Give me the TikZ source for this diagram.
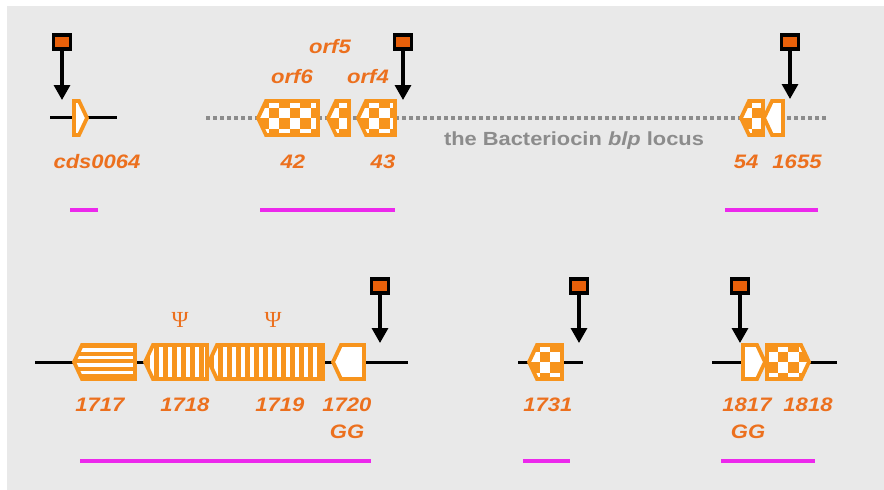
\documentclass[tikz,border=0pt]{standalone}
\usepackage{fontspec}
\setmainfont{Liberation Sans}
\newfontfamily\psifont{Liberation Serif}
\usepackage{tikz}
\usetikzlibrary{arrows.meta}

\definecolor{genecol}{RGB}{247,148,29}
\definecolor{labelcol}{RGB}{236,112,30}
\definecolor{markcol}{RGB}{232,96,10}
\definecolor{locuscol}{RGB}{140,140,140}
\definecolor{panelcol}{RGB}{233,233,233}
\definecolor{barcol}{RGB}{236,40,236}

% gene outlines: tip/start at #1, end at #2, backbone at #3
\newcommand{\geneleft}[3]{({#1},{#3}) -- ({#1+8},{#3-17}) -- ({#2},{#3-17}) -- ({#2},{#3+17}) -- ({#1+8},{#3+17}) -- cycle}
\newcommand{\generight}[3]{({#1},{#3-17}) -- ({#2-8},{#3-17}) -- ({#2},{#3}) -- ({#2-8},{#3+17}) -- ({#1},{#3+17}) -- cycle}

% fillings
\newcommand{\checkers}[2]{\foreach \i in {0,...,12} \foreach \j in {0,2}
  {\fill[genecol] ({#1+\i*10.5},{#2-21+(\j+mod(\i,2))*10.5}) rectangle ++(10.5,10.5);}}
\newcommand{\vstripes}[2]{\foreach \i in {0,...,14}
  {\fill[genecol] ({#1+\i*9},{#2-18}) rectangle ++(5,36);}}
\newcommand{\hstripes}[2]{\foreach \j in {0,...,5}
  {\fill[genecol] ({#1},{#2-18+\j*7.5}) rectangle ++(80,4);}}
\newcommand{\plain}[2]{}

\newcommand{\drawgene}[2]{%
  \begin{scope}
    \clip #1;
    \fill[white] #1;
    #2
  \end{scope}
  \draw[geneline] #1;}

\begin{document}
\begin{tikzpicture}[x=1pt, y=-1pt,
  tagbox/.style={draw=black, line width=3.5pt, fill=markcol, minimum width=17pt, minimum height=14pt, inner sep=0pt},
  probe/.style={line width=3.2pt, -{Triangle[width=16pt,length=15pt]}},
  backbone/.style={line width=3pt},
  locusline/.style={line width=3.5pt, locuscol, dash pattern=on 4pt off 3pt},
  geneline/.style={genecol, line width=3.8pt, line join=miter},
  genelabel/.style={text=labelcol, font=\fontsize{19.5}{19.5}\selectfont\bfseries\itshape, xscale=1.13, inner sep=0pt},
  psi/.style={text=labelcol, font=\fontsize{23}{23}\selectfont\psifont, inner sep=0pt},
  region/.style={barcol, line width=4pt}]

  \useasboundingbox (0,0) rectangle (884,490);
  \fill[white] (0,0) rectangle (884,490);
  \fill[panelcol] (7,6) rectangle (884,490);

  % top row
  \draw[backbone] (50,117) -- (117,117);
  \draw[locusline] (206,118) -- (828,118);
  \drawgene{\generight{74}{87}{118}}{\plain{74}{118}}
  \drawgene{\geneleft{258}{318}{118}}{\checkers{258}{118}}
  \drawgene{\geneleft{328}{349}{118}}{\checkers{328}{118}}
  \drawgene{\geneleft{358}{395}{118}}{\checkers{358}{118}}
  \drawgene{\geneleft{741}{763}{118}}{\checkers{741}{118}}
  \drawgene{\geneleft{764}{783}{118}}{\plain{764}{118}}

  \node[genelabel] (cds) at (97,162) {cds0064};
  \node[genelabel] (orf6) at (292,77) {orf6};
  \node[genelabel] (orf5) at (330,47) {orf5};
  \node[genelabel] (orf4) at (368,77) {orf4};
  \node[genelabel] (g42) at (293,162) {42};
  \node[genelabel] (g43) at (383,162) {43};
  \node[genelabel] (g54) at (746,162) {54};
  \node[genelabel] (g1655) at (797,162) {1655};
  \node[text=locuscol, font=\fontsize{19}{19}\selectfont\bfseries, xscale=1.15, inner sep=0pt] (blp) at (574,141) {the Bacteriocin \textit{blp} locus};

  \node[tagbox] (m1) at (62,42) {};
  \node[tagbox] (m2) at (403,42) {};
  \node[tagbox] (m3) at (790,42) {};
  \coordinate (t1) at (62,100);
  \coordinate (t2) at (403,100);
  \coordinate (t3) at (790,99);
  \draw[probe] (m1.south) -- (t1);
  \draw[probe] (m2.south) -- (t2);
  \draw[probe] (m3.south) -- (t3);

  \draw[region] (70,210) -- (98,210);
  \draw[region] (260,210) -- (395,210);
  \draw[region] (725,210) -- (818,210);

  % bottom row
  \draw[backbone] (35,362) -- (408,362);
  \draw[backbone] (518,362) -- (583,362);
  \draw[backbone] (712,362) -- (837,362);
  \drawgene{\geneleft{74}{135}{362}}{\hstripes{74}{362}}
  \drawgene{\geneleft{145}{207}{362}}{\vstripes{145}{362}}
  \drawgene{\geneleft{209}{323}{362}}{\vstripes{209}{362}}
  \drawgene{\geneleft{333}{364}{362}}{\plain{333}{362}}
  \drawgene{\geneleft{529}{562}{362}}{\checkers{529}{362}}
  \drawgene{\generight{743}{765}{362}}{\plain{743}{362}}
  \drawgene{\generight{767}{809}{362}}{\checkers{767}{362}}

  \node[psi] (psi1) at (180,320) {Ψ};
  \node[psi] (psi2) at (273,320) {Ψ};
  \node[genelabel] (g1717) at (100,405) {1717};
  \node[genelabel] (g1718) at (185,405) {1718};
  \node[genelabel] (g1719) at (280,405) {1719};
  \node[genelabel] (g1720) at (347,405) {1720};
  \node[genelabel] (gg1) at (347,432) {GG};
  \node[genelabel] (g1731) at (548,405) {1731};
  \node[genelabel] (g1817) at (747,405) {1817};
  \node[genelabel] (g1818) at (808,405) {1818};
  \node[genelabel] (gg2) at (748,432) {GG};

  \node[tagbox] (m4) at (380,286) {};
  \node[tagbox] (m5) at (579,286) {};
  \node[tagbox] (m6) at (740,286) {};
  \coordinate (t4) at (380,343);
  \coordinate (t5) at (579,343);
  \coordinate (t6) at (740,343);
  \draw[probe] (m4.south) -- (t4);
  \draw[probe] (m5.south) -- (t5);
  \draw[probe] (m6.south) -- (t6);

  \draw[region] (80,461) -- (371,461);
  \draw[region] (523,461) -- (570,461);
  \draw[region] (721,461) -- (815,461);
\end{tikzpicture}
\end{document}
